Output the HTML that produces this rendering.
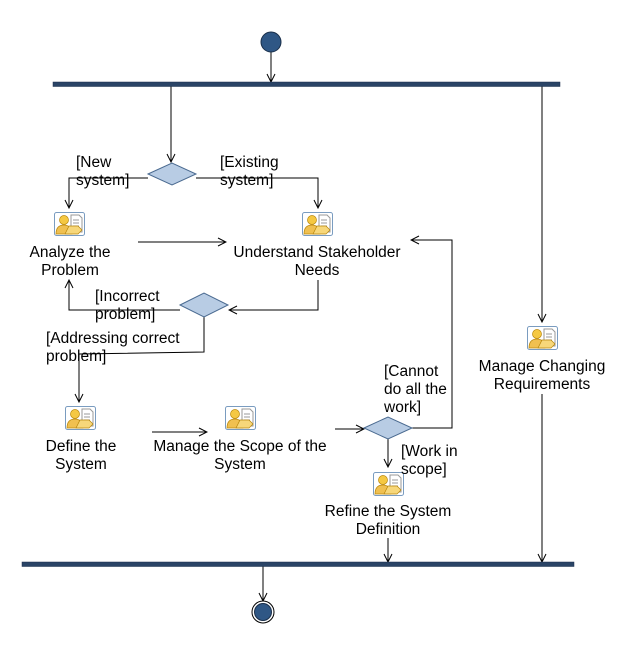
<!DOCTYPE html>
<html><head><meta charset="utf-8"><style>
html,body{margin:0;padding:0;background:#fff;}
svg{display:block;}
text{font-family:"Liberation Sans",Arial,sans-serif;font-size:15.5px;fill:#000;}
</style></head><body>
<svg width="626" height="645" viewBox="0 0 626 645" xmlns="http://www.w3.org/2000/svg">
<defs>
<marker id="a" markerWidth="10" markerHeight="10" refX="9" refY="5" orient="auto" markerUnits="userSpaceOnUse">
<path d="M1,1 L9,5 L1,9" fill="none" stroke="#000" stroke-width="1"/>
</marker>
<g id="ic">
<rect x="0.5" y="0.5" width="30" height="23" rx="2" fill="#fff" stroke="#7a9cc0"/>
<path d="M17,3 h8 l3,3 v14 h-11z" fill="#fff" stroke="#999"/>
<path d="M19,8h6M19,11h6M19,14h6" stroke="#999"/>
<circle cx="10" cy="8" r="4.5" fill="#f5c842" stroke="#b8860b" stroke-width="0.7"/>
<path d="M2,22 q0,-9 8,-9 q7,0 8,9z" fill="#f0c050" stroke="#b8860b" stroke-width="0.7"/>
<path d="M11,22 l4,-8 h9 l4,4 l-4,4z" fill="#f7d77a" stroke="#b8860b" stroke-width="0.7"/>
</g>
</defs>
<g stroke="#000" stroke-width="1" fill="none">
<line x1="271" y1="52" x2="271" y2="82" marker-end="url(#a)"/>
<polyline points="171,86 171,162" marker-end="url(#a)"/>
<polyline points="148,178 69,178 69,208" marker-end="url(#a)"/>
<polyline points="196,178 318,178 318,208" marker-end="url(#a)"/>
<line x1="138" y1="242" x2="226" y2="242" marker-end="url(#a)"/>
<polyline points="318,280 318,310 229,310" marker-end="url(#a)"/>
<polyline points="180,310 69,310 69,280" marker-end="url(#a)"/>
<polyline points="204,317 204,352 79,354 79,402" marker-end="url(#a)"/>
<line x1="152" y1="432" x2="207" y2="432" marker-end="url(#a)"/>
<line x1="335" y1="429" x2="364" y2="429" marker-end="url(#a)"/>
<polyline points="412,428 452,428 452,240 411,240" marker-end="url(#a)"/>
<line x1="388" y1="439" x2="388" y2="467" marker-end="url(#a)"/>
<line x1="388" y1="538" x2="388" y2="562" marker-end="url(#a)"/>
<line x1="542" y1="86" x2="542" y2="322" marker-end="url(#a)"/>
<line x1="542" y1="394" x2="542" y2="562" marker-end="url(#a)"/>
<line x1="263" y1="566" x2="263" y2="601" marker-end="url(#a)"/>
</g>
<circle cx="271" cy="42" r="10" fill="#2f5785" stroke="#1a2f4a"/>
<rect x="53" y="82" width="507" height="4.5" fill="#2a4466" stroke="#1a2f4a" stroke-width="0.5"/>
<rect x="22" y="562" width="552" height="4.5" fill="#2a4466" stroke="#1a2f4a" stroke-width="0.5"/>
<circle cx="263" cy="612" r="11" fill="#fff" stroke="#000"/>
<circle cx="263" cy="612" r="8.5" fill="#2f5785" stroke="#1a2f4a"/>
<g fill="#b8cce4" stroke="#4a6a90">
<polygon points="148,174 172,163 196,174 172,185"/>
<polygon points="180,305 204,293 228,305 204,317"/>
<polygon points="364,428 388,417 412,428 388,439"/>
</g>
<use href="#ic" x="54" y="212"/>
<use href="#ic" x="302" y="212"/>
<use href="#ic" x="65" y="406"/>
<use href="#ic" x="225" y="406"/>
<use href="#ic" x="373" y="472"/>
<use href="#ic" x="527" y="326"/>
<g text-anchor="middle">
<text x="70" y="257">Analyze the</text><text x="70" y="275">Problem</text>
<text x="317" y="257">Understand Stakeholder</text><text x="317" y="275">Needs</text>
<text x="81" y="451">Define the</text><text x="81" y="469">System</text>
<text x="240" y="451">Manage the Scope of the</text><text x="240" y="469">System</text>
<text x="388" y="516">Refine the System</text><text x="388" y="534">Definition</text>
<text x="542" y="371">Manage Changing</text><text x="542" y="389">Requirements</text>
</g>
<text x="76" y="167">[New</text><text x="76" y="185">system]</text>
<text x="220" y="167">[Existing</text><text x="220" y="185">system]</text>
<text x="95" y="301">[Incorrect</text><text x="95" y="319">problem]</text>
<text x="46" y="343">[Addressing correct</text><text x="46" y="361">problem]</text>
<text x="384" y="376">[Cannot</text><text x="384" y="394">do all the</text><text x="384" y="412">work]</text>
<text x="401" y="456">[Work in</text><text x="401" y="474">scope]</text>
</svg>
</body></html>
